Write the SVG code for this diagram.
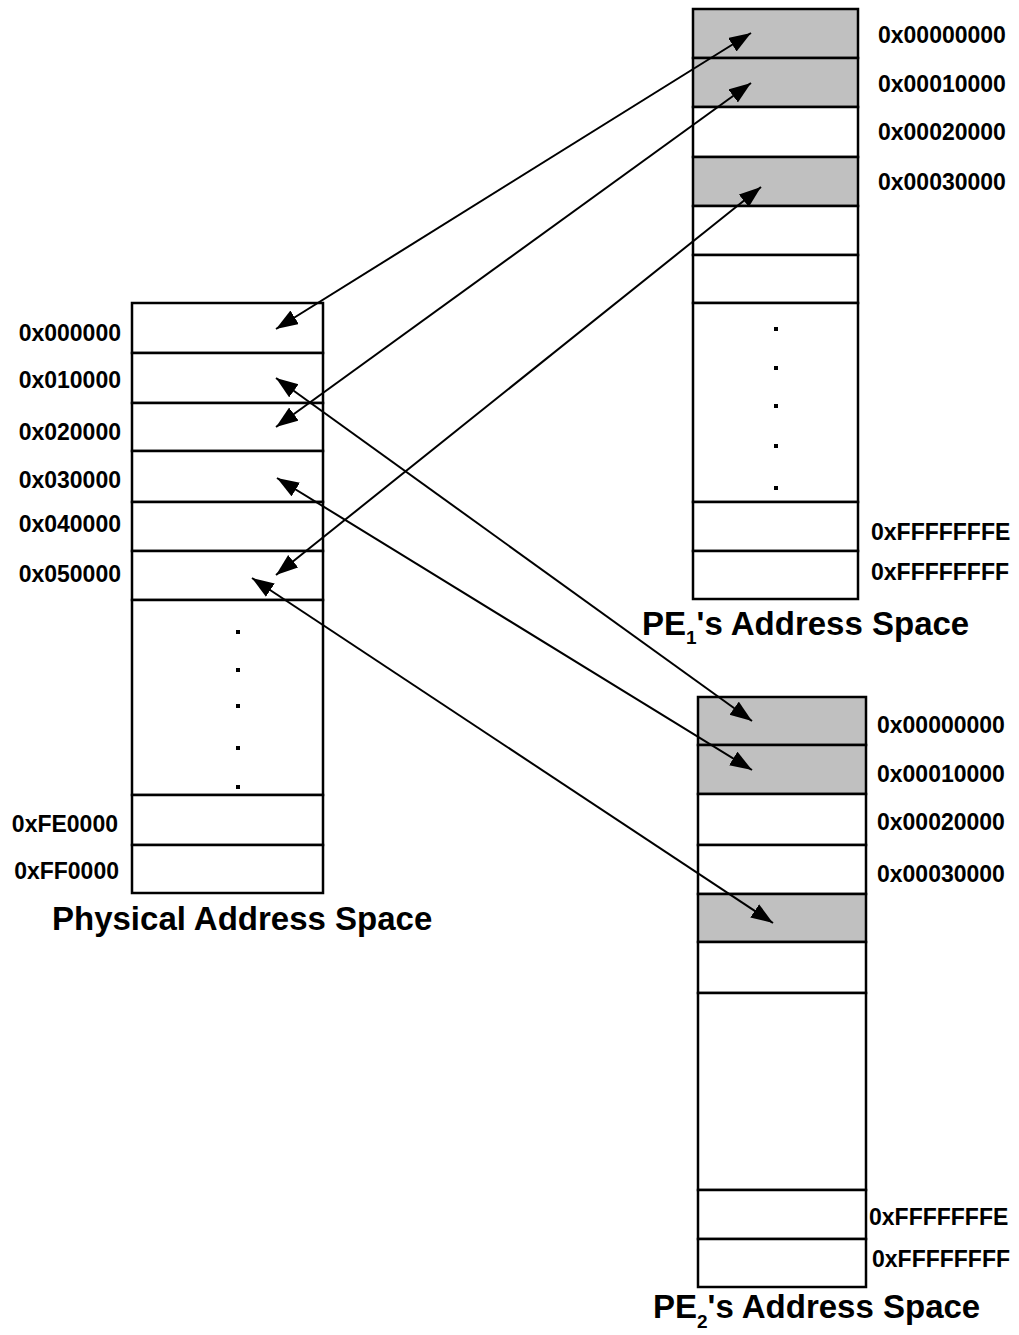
<svg xmlns="http://www.w3.org/2000/svg" width="1019" height="1335" viewBox="0 0 1019 1335">
  <style>
    .cell { fill: #ffffff; stroke: #000000; stroke-width: 2.5; }
    .used { fill: #c0c0c0; stroke: #000000; stroke-width: 2.5; }
    .addr { font-family: "Liberation Sans", Arial, sans-serif; font-weight: bold; font-size: 23px; fill: #000000; }
    .title { font-family: "Liberation Sans", Arial, sans-serif; font-weight: bold; font-size: 33px; fill: #000000; }
    .dot { fill: #000000; }
    .map { stroke: #000000; stroke-width: 2; fill: none; marker-start: url(#head); marker-end: url(#head); }
  </style>
  <defs>
    <marker id="head" markerUnits="userSpaceOnUse" markerWidth="24" markerHeight="18" refX="22" refY="8" orient="auto-start-reverse">
      <path d="M0,0 L22,8 L0,16 Z" fill="#000000"/>
    </marker>
  </defs>
  <rect width="1019" height="1335" fill="#ffffff"/>

  <!-- Physical address space -->
  <g id="physical">
    <rect class="cell" x="132" y="303" width="191" height="50"/>
    <rect class="cell" x="132" y="353" width="191" height="50"/>
    <rect class="cell" x="132" y="403" width="191" height="48"/>
    <rect class="cell" x="132" y="451" width="191" height="51"/>
    <rect class="cell" x="132" y="502" width="191" height="49"/>
    <rect class="cell" x="132" y="551" width="191" height="49"/>
    <rect class="cell" x="132" y="600" width="191" height="195"/>
    <rect class="cell" x="132" y="795" width="191" height="50"/>
    <rect class="cell" x="132" y="845" width="191" height="48"/>
    <rect class="dot" x="236" y="630" width="4" height="4"/>
    <rect class="dot" x="236" y="668" width="4" height="4"/>
    <rect class="dot" x="236" y="704" width="4" height="4"/>
    <rect class="dot" x="236" y="746" width="4" height="4"/>
    <rect class="dot" x="236" y="785" width="4" height="4"/>
    <g text-anchor="end">
      <text class="addr" x="121" y="341">0x000000</text>
      <text class="addr" x="121" y="388">0x010000</text>
      <text class="addr" x="121" y="440">0x020000</text>
      <text class="addr" x="121" y="488">0x030000</text>
      <text class="addr" x="121" y="532">0x040000</text>
      <text class="addr" x="121" y="582">0x050000</text>
      <text class="addr" x="118" y="832">0xFE0000</text>
      <text class="addr" x="119" y="879">0xFF0000</text>
    </g>
    <text class="title" x="52" y="930" font-size="32.5">Physical Address Space</text>
  </g>

  <!-- PE1 address space -->
  <g id="pe1">
    <rect class="used" x="693" y="9" width="165" height="49"/>
    <rect class="used" x="693" y="58" width="165" height="49"/>
    <rect class="cell" x="693" y="107" width="165" height="50"/>
    <rect class="used" x="693" y="157" width="165" height="49"/>
    <rect class="cell" x="693" y="206" width="165" height="49"/>
    <rect class="cell" x="693" y="255" width="165" height="48"/>
    <rect class="cell" x="693" y="303" width="165" height="199"/>
    <rect class="cell" x="693" y="502" width="165" height="49"/>
    <rect class="cell" x="693" y="551" width="165" height="48"/>
    <rect class="dot" x="774" y="327" width="4" height="4"/>
    <rect class="dot" x="774" y="366" width="4" height="4"/>
    <rect class="dot" x="774" y="404" width="4" height="4"/>
    <rect class="dot" x="774" y="444" width="4" height="4"/>
    <rect class="dot" x="774" y="486" width="4" height="4"/>
    <text class="addr" x="878" y="43">0x00000000</text>
    <text class="addr" x="878" y="92">0x00010000</text>
    <text class="addr" x="878" y="140">0x00020000</text>
    <text class="addr" x="878" y="190">0x00030000</text>
    <text class="addr" x="871" y="540">0xFFFFFFFE</text>
    <text class="addr" x="871" y="580">0xFFFFFFFF</text>
    <text class="title" x="642" y="635">PE<tspan font-size="19" dy="9">1</tspan><tspan dy="-9">'s Address Space</tspan></text>
  </g>

  <!-- PE2 address space -->
  <g id="pe2">
    <rect class="used" x="698" y="697" width="168" height="48"/>
    <rect class="used" x="698" y="745" width="168" height="49"/>
    <rect class="cell" x="698" y="794" width="168" height="51"/>
    <rect class="cell" x="698" y="845" width="168" height="49"/>
    <rect class="used" x="698" y="894" width="168" height="48"/>
    <rect class="cell" x="698" y="942" width="168" height="51"/>
    <rect class="cell" x="698" y="993" width="168" height="197"/>
    <rect class="cell" x="698" y="1190" width="168" height="49"/>
    <rect class="cell" x="698" y="1239" width="168" height="48"/>
    <text class="addr" x="877" y="733">0x00000000</text>
    <text class="addr" x="877" y="782">0x00010000</text>
    <text class="addr" x="877" y="830">0x00020000</text>
    <text class="addr" x="877" y="882">0x00030000</text>
    <text class="addr" x="869" y="1225">0xFFFFFFFE</text>
    <text class="addr" x="872" y="1267">0xFFFFFFFF</text>
    <text class="title" x="653" y="1318">PE<tspan font-size="19" dy="10">2</tspan><tspan dy="-10">'s Address Space</tspan></text>
  </g>

  <!-- Page mappings (double-headed) -->
  <g id="connectors">
    <line class="map" x1="276" y1="329" x2="751" y2="33"/>
    <line class="map" x1="276" y1="427" x2="751" y2="83"/>
    <line class="map" x1="276" y1="575" x2="761" y2="187"/>
    <line class="map" x1="276" y1="378" x2="752" y2="721"/>
    <line class="map" x1="277" y1="478" x2="752" y2="770"/>
    <line class="map" x1="252" y1="578" x2="773" y2="923"/>
  </g>
</svg>
